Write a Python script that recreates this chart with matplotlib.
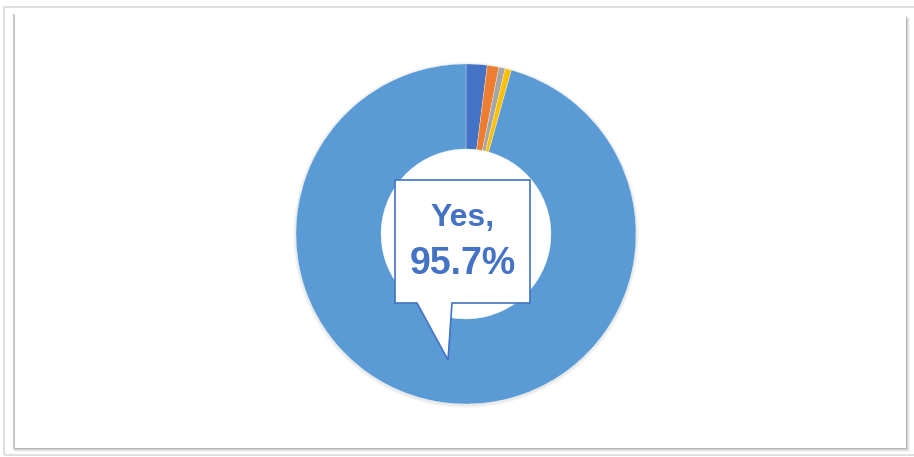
import matplotlib.pyplot as plt
from matplotlib.patches import Rectangle, Polygon, Wedge

labels = ['Dark blue', 'Orange', 'Gray', 'Yellow', 'Yes']
values = [2.0, 1.1, 0.6, 0.6, 95.7]
colors = ['#4472C4', '#ED7D31', '#A5A5A5', '#FFC000', '#5B9BD5']
callout_label = 'Yes,'
callout_value = '95.7%'

W, H = 914, 457


def fy(y):
    # pixel row (top-down) to data y (bottom-up)
    return H - y


fig = plt.figure(figsize=(W / 100, H / 100), dpi=100)
ax = fig.add_axes([0, 0, 1, 1])

# frame with a soft shadow
ax.add_patch(Rectangle((4, fy(455)), 912, 448, fill=False, edgecolor='#D9D9D9', lw=1.2))
for i, a in enumerate([0.04, 0.06, 0.09, 0.13]):
    off = 4 - i
    ax.add_patch(Rectangle((14, fy(448 + off)), 892 + off, 433,
                           facecolor='#000000', alpha=a, lw=0))
ax.add_patch(Rectangle((14, fy(448)), 892, 433, facecolor='white', lw=0))
ax.plot([14, 14], [fy(15), fy(448)], color='#C8C8C8', lw=1.5)

# donut, faint outer shadow ring first
cx, cy, r = 466, fy(234), 170
for k, a in enumerate([0.03, 0.05]):
    rr = r + 3 - k * 1.5
    ax.add_patch(Wedge((cx, cy - 1), rr, 0, 360, width=rr - r + 2,
                       facecolor='black', alpha=a, lw=0))
ax.pie(values, colors=colors, startangle=90, counterclock=False,
       center=(cx, cy), radius=r, frame=True,
       wedgeprops=dict(width=r * 0.5, edgecolor='white', linewidth=0.2))

# callout
pts = [(395, 180), (530, 180), (530, 303), (452, 303), (448, 360), (417, 303), (395, 303)]
ax.add_patch(Polygon([(x, fy(y)) for x, y in pts], closed=True,
                     facecolor='white', edgecolor='#4472C4', lw=1.2, zorder=5))
ax.text(463, fy(218), callout_label, ha='center', va='center', fontsize=23,
        fontweight='bold', color='#4472C4', family='Liberation Sans', zorder=6)
ax.text(463, fy(264), callout_value, ha='center', va='center', fontsize=27,
        fontweight='bold', color='#4472C4', family='Liberation Sans', zorder=6)

ax.set_xlim(0, W)
ax.set_ylim(0, H)
ax.set_aspect('equal')
ax.axis('off')

fig.savefig('out.png', dpi=100)
